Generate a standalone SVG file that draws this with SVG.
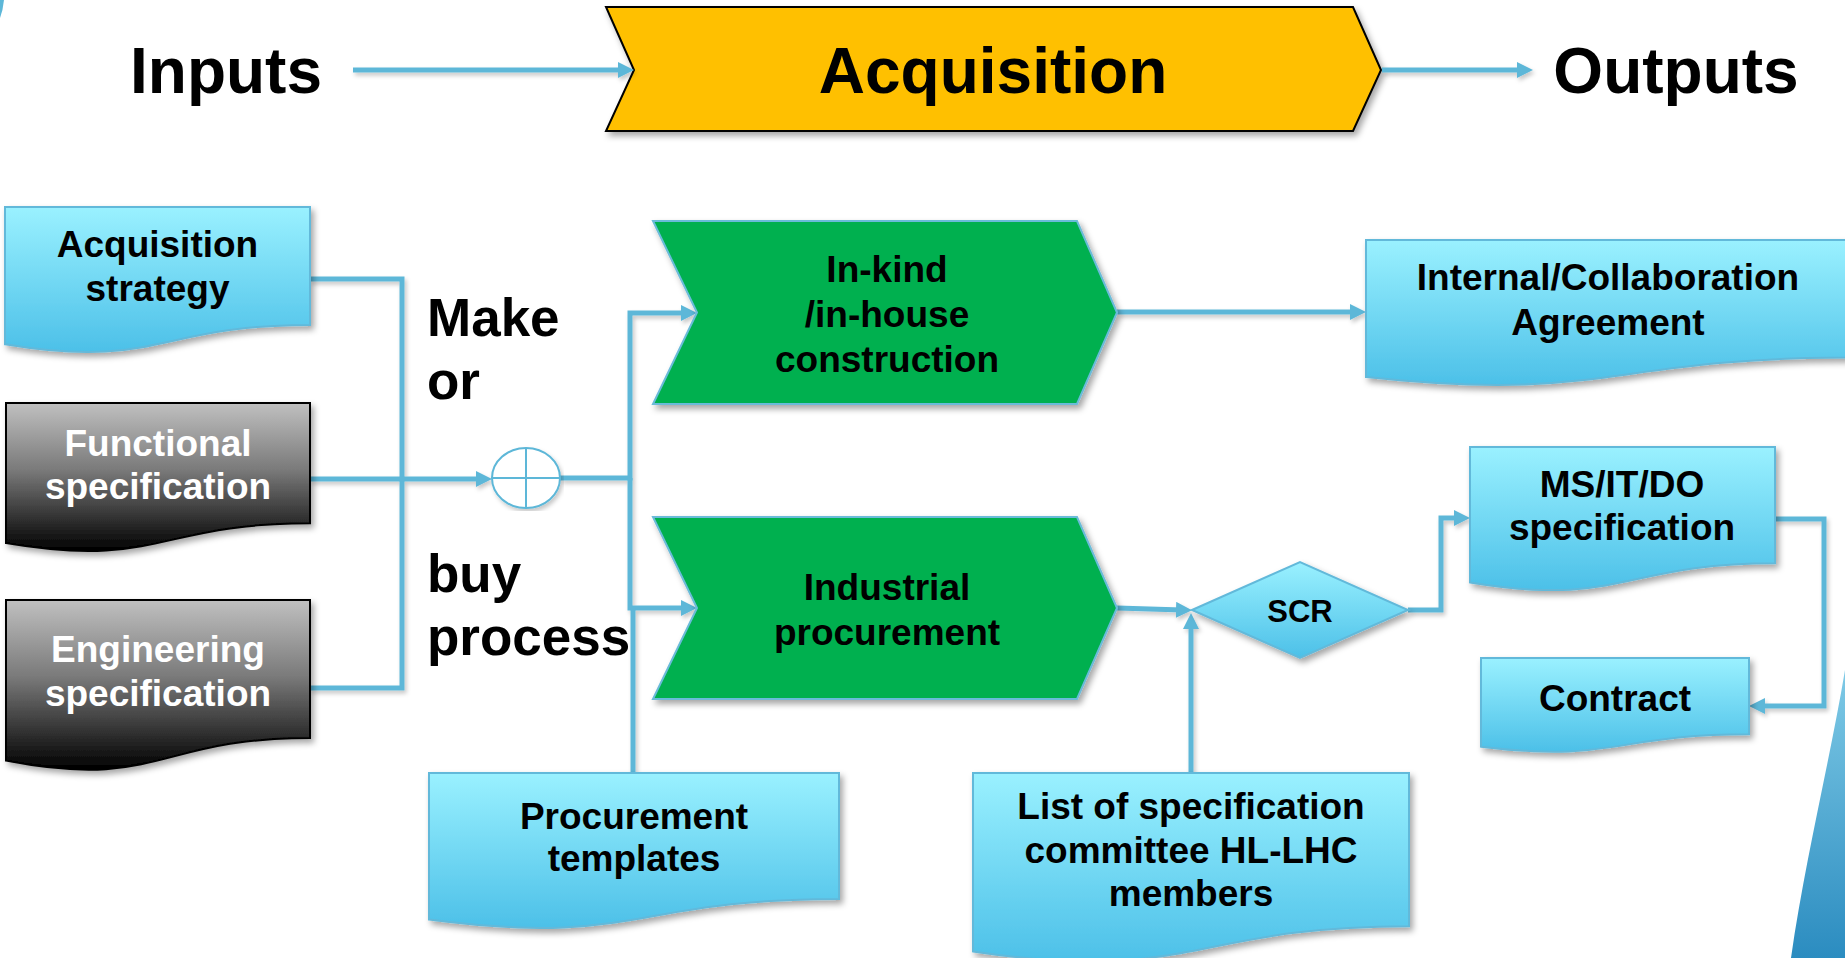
<svg xmlns="http://www.w3.org/2000/svg" width="1845" height="958" viewBox="0 0 1845 958">
  <defs>
    <style>
      .t { font-family: "Liberation Sans", Arial, Helvetica, sans-serif; font-weight: 700; text-anchor: middle; fill: #000; }
      .title { font-size: 64px; }
      .lbl { font-size: 37px; }
      .big { font-size: 53px; text-anchor: start; }
      .w { fill: #fff; }
      .doc { fill: url(#gBlue); stroke: #62b9da; stroke-width: 2; }
      .dark { fill: url(#gDark); stroke: #000; stroke-width: 2; }
      .green { fill: #00b050; stroke: #6bbbd9; stroke-width: 2; }
      .conn { fill: none; stroke: #5db7d8; stroke-width: 5; stroke-linejoin: miter; }
      .arr { marker-end: url(#ah); }
    </style>
    <linearGradient id="gBlue" x1="0" y1="0" x2="0" y2="1">
      <stop offset="0" stop-color="#9af1ff"/>
      <stop offset="1" stop-color="#4cc0e8"/>
    </linearGradient>
    <linearGradient id="gDark" x1="0" y1="0" x2="0" y2="1">
      <stop offset="0" stop-color="#c0c0c0"/>
      <stop offset="0.45" stop-color="#7a7a7a"/>
      <stop offset="1" stop-color="#000"/>
    </linearGradient>
    <linearGradient id="gSwoosh" x1="0" y1="0" x2="0" y2="1">
      <stop offset="0" stop-color="#7fcae6"/>
      <stop offset="1" stop-color="#2b8cc0"/>
    </linearGradient>
    <filter id="sh" x="-10%" y="-10%" width="120%" height="130%">
      <feDropShadow dx="3" dy="4" stdDeviation="3" flood-color="#000" flood-opacity="0.35"/>
    </filter>
    <filter id="shl" x="-5%" y="-5%" width="110%" height="110%">
      <feDropShadow dx="2" dy="3" stdDeviation="2" flood-color="#000" flood-opacity="0.22"/>
    </filter>
    <marker id="ah" markerUnits="userSpaceOnUse" markerWidth="16" markerHeight="16" refX="6" refY="8" orient="auto">
      <path d="M0,0 L16,8 L0,16 z" fill="#5db7d8"/>
    </marker>
  </defs>

  <rect width="1845" height="958" fill="#fff"/>

  <!-- slide decoration -->
  <path d="M0,0 L4,0 Q3,10 0,18 Z" fill="#5db7d8"/>
  <path d="M1845,670 C1830,760 1805,860 1791,958 L1845,958 Z" fill="url(#gSwoosh)"/>

  <!-- header row -->
  <g id="inputs">
    <text class="t title" x="226" y="93">Inputs</text>
  </g>
  <g id="acquisition">
    <polygon points="606,7 1353,7 1381,70 1353,131 606,131 634,70" fill="#ffc000" stroke="#000" stroke-width="2" filter="url(#sh)"/>
    <text class="t title" x="993" y="93">Acquisition</text>
  </g>
  <g id="outputs">
    <text class="t title" x="1676" y="93">Outputs</text>
  </g>

  <!-- connectors -->
  <g id="connectors" filter="url(#shl)">
    <path class="conn arr" d="M353,70 H624"/>
    <path class="conn arr" d="M1382,70 H1523"/>
    <path class="conn" d="M310,279 H402 V688 H310"/>
    <path class="conn arr" d="M310,479 H482"/>
    <path class="conn arr" d="M560,478 H630 V313 H687"/>
    <path class="conn arr" d="M630,478 V608 H687"/>
    <path class="conn" d="M633,773 V608"/>
    <path class="conn arr" d="M1117,312 H1356"/>
    <path class="conn arr" d="M1117,608 L1182,610"/>
    <path class="conn arr" d="M1191,773 V623"/>
    <path class="conn arr" d="M1408,610 H1441 V518 H1460"/>
    <path class="conn arr" d="M1775,519 H1824 V706 H1759"/>
  </g>

  <!-- input documents -->
  <g id="acq-strategy">
    <path class="doc" filter="url(#sh)" d="M5,207 H310 V324.9 C157.5,324.9 157.5,369.8 5,344.3 Z"/>
    <text class="t lbl" x="157.5" y="257">Acquisition</text>
    <text class="t lbl" x="157.5" y="301">strategy</text>
  </g>
  <g id="functional-spec">
    <path class="dark" filter="url(#sh)" d="M6,403 H310 V523.3 C158,523.3 158,569.1 6,543.1 Z"/>
    <text class="t lbl w" x="158" y="456">Functional</text>
    <text class="t lbl w" x="158" y="499">specification</text>
  </g>
  <g id="engineering-spec">
    <path class="dark" filter="url(#sh)" d="M6,600 H310 V737.9 C158,737.9 158,790.5 6,760.6 Z"/>
    <text class="t lbl w" x="158" y="662">Engineering</text>
    <text class="t lbl w" x="158" y="706">specification</text>
  </g>

  <!-- make or buy decision -->
  <g id="make-or-buy">
    <text class="t big" x="427" y="336">Make</text>
    <text class="t big" x="427" y="399">or</text>
    <text class="t big" x="427" y="592">buy</text>
    <text class="t big" x="427" y="655">process</text>
    <g filter="url(#shl)">
      <ellipse cx="526" cy="478" rx="34" ry="30" fill="#fff" stroke="#5db7d8" stroke-width="2"/>
      <path d="M492,478 H560 M526,448 V508" stroke="#5db7d8" stroke-width="2" fill="none"/>
    </g>
  </g>

  <!-- processes -->
  <g id="in-kind">
    <polygon class="green" filter="url(#sh)" points="653,221 1077,221 1117,312.5 1077,404 653,404 697,312.5"/>
    <text class="t lbl" x="887" y="282">In-kind</text>
    <text class="t lbl" x="887" y="327">/in-house</text>
    <text class="t lbl" x="887" y="372">construction</text>
  </g>
  <g id="industrial">
    <polygon class="green" filter="url(#sh)" points="653,517 1077,517 1117,608 1077,699 653,699 697,608"/>
    <text class="t lbl" x="887" y="600">Industrial</text>
    <text class="t lbl" x="887" y="645">procurement</text>
  </g>

  <!-- outputs -->
  <g id="agreement">
    <path class="doc" filter="url(#sh)" d="M1366,240 H1850 V357.6 C1608,357.6 1608,402.8 1366,377 Z"/>
    <text class="t lbl" x="1608" y="290">Internal/Collaboration</text>
    <text class="t lbl" x="1608" y="335">Agreement</text>
  </g>
  <g id="scr">
    <polygon points="1192,610 1300,562 1408,610 1300,658" fill="url(#gBlue)" stroke="#62b9da" stroke-width="2" filter="url(#sh)"/>
    <text class="t" style="font-size:31px" x="1300" y="622">SCR</text>
  </g>
  <g id="ms-it-do">
    <path class="doc" filter="url(#sh)" d="M1470,447 H1775 V563.3 C1622.5,563.3 1622.5,607.6 1470,582.4 Z"/>
    <text class="t lbl" x="1622" y="497">MS/IT/DO</text>
    <text class="t lbl" x="1622" y="540">specification</text>
  </g>
  <g id="contract">
    <path class="doc" filter="url(#sh)" d="M1481,658 H1749 V734.2 C1615,734.2 1615,763.2 1481,746.7 Z"/>
    <text class="t lbl" x="1615" y="711">Contract</text>
  </g>

  <!-- supporting documents -->
  <g id="procurement-templates">
    <path class="doc" filter="url(#sh)" d="M429,773 H839 V898.9 C634,898.9 634,946.9 429,919.6 Z"/>
    <text class="t lbl" x="634" y="829">Procurement</text>
    <text class="t lbl" x="634" y="871">templates</text>
  </g>
  <g id="committee-list">
    <path class="doc" filter="url(#sh)" d="M973,773 H1409 V926.2 C1191,926.2 1191,984.5 973,951.4 Z"/>
    <text class="t lbl" x="1191" y="819">List of specification</text>
    <text class="t lbl" x="1191" y="863">committee HL-LHC</text>
    <text class="t lbl" x="1191" y="906">members</text>
  </g>
</svg>
